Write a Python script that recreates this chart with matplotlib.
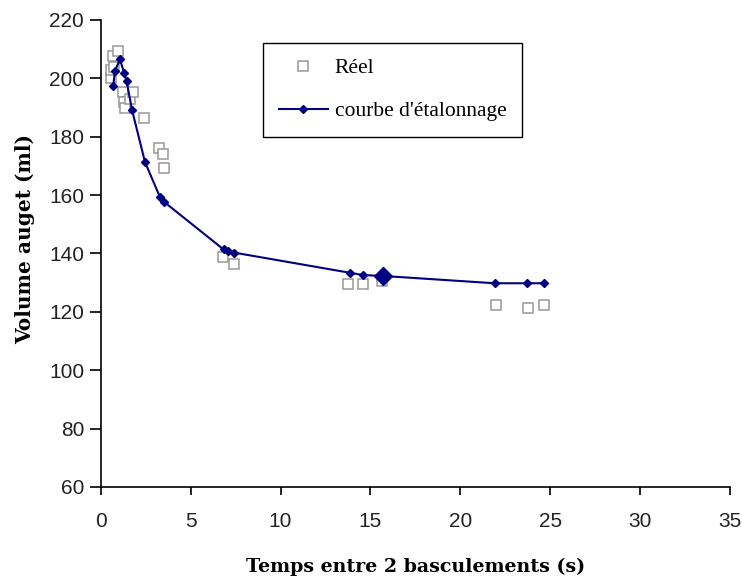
import matplotlib
matplotlib.use("Agg")
import matplotlib.pyplot as plt

# mesures (carrés gris)
reel_t = [0.6, 0.6, 0.7, 0.74, 0.96, 1.26, 1.31, 1.35, 1.63, 1.78, 2.41, 3.24, 3.44, 3.52,
          6.78, 7.42, 13.75, 14.6, 15.67, 22.0, 23.75, 24.65]
reel_v = [200, 203, 207.5, 204, 209.5, 195.5, 192, 190, 193, 195.4, 186.3, 176.3, 174, 169.3,
          138.9, 136.5, 129.5, 129.5, 130.5, 122.3, 121.2, 122.3]

# courbe d'étalonnage (losanges bleus)
courbe_t = [0.7, 0.79, 1.07, 1.3, 1.44, 1.75, 2.46, 3.29, 3.52, 6.83, 7.1, 7.42,
            13.85, 14.6, 15.7, 21.9, 23.7, 24.65]
courbe_v = [197.5, 202.5, 206.5, 202, 199, 189, 171.4, 159.4, 157.7, 141.4, 140.8, 140.3,
            133.4, 132.6, 132.3, 129.8, 129.8, 129.8]

xticks = [0, 5, 10, 15, 20, 25, 30, 35]
yticks = [60, 80, 100, 120, 140, 160, 180, 200, 220]

fig = plt.figure(figsize=(7.42, 5.83), dpi=100)
ax = fig.add_axes([0.1357, 0.1647, 0.8483, 0.801])

ax.plot(reel_t, reel_v, linestyle="none", marker="s", markersize=6.5,
        markerfacecolor="white", markeredgecolor="#999999", markeredgewidth=1.1,
        label="Réel", zorder=2)
ax.plot(courbe_t, courbe_v, color="#000080", linewidth=1.5, marker="D", markersize=4,
        label="courbe d'étalonnage", zorder=3)
# le gros losange vers 15.7 s
ax.plot(courbe_t[14], courbe_v[14], marker="D", markersize=9, color="#000080", zorder=4)

ax.set_xlim(0, 35)
ax.set_ylim(60, 220)
ax.set_xticks(xticks)
ax.set_yticks(yticks)

for s in ["top", "right"]:
    ax.spines[s].set_visible(False)
for s in ["left", "bottom"]:
    ax.spines[s].set_linewidth(1.2)

ax.tick_params(axis="x", length=6, width=1.2, pad=12, labelsize=15, colors="black")
ax.tick_params(axis="y", length=8, width=1.2, pad=4, labelsize=15, colors="black")
for lab in ax.get_xticklabels() + ax.get_yticklabels():
    lab.set_family("Liberation Sans")
    lab.set_color("#222222")

ax.set_xlabel("Temps entre 2 basculements (s)", family="DejaVu Serif",
              fontweight="bold", fontsize=13.7)
ax.set_ylabel("Volume auget (ml)", family="DejaVu Serif",
              fontweight="bold", fontsize=14.5)
ax.xaxis.set_label_coords(0.5, -0.152)
ax.yaxis.set_label_coords(-0.104, 0.532)

leg = ax.legend(loc="upper left", bbox_to_anchor=(0.258, 0.951), borderaxespad=0,
                prop={"family": "Liberation Serif", "size": 15.5},
                fancybox=False, edgecolor="black", framealpha=1,
                handlelength=2.3, labelspacing=1.05, handletextpad=0.3,
                borderpad=0.72)
leg.get_frame().set_linewidth(1.0)

fig.savefig("out.png", dpi=100)
